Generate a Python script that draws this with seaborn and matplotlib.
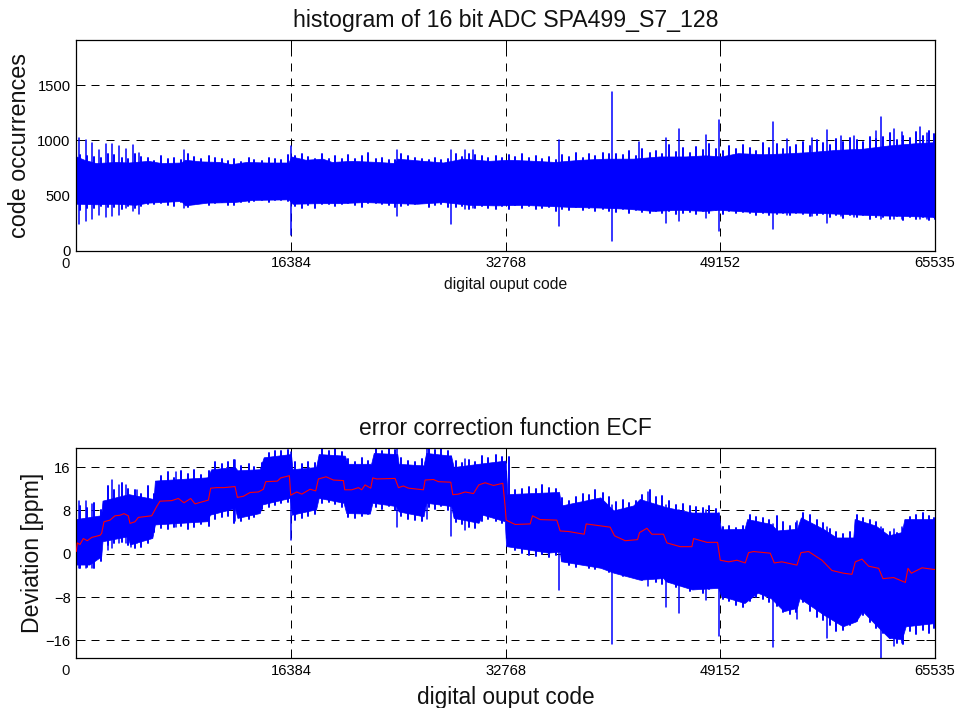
import matplotlib
matplotlib.use("Agg")
import matplotlib.pyplot as plt
import pandas as pd
import seaborn as sns

# x axis marks shared by both panels
code_ticks = [0, 16384, 32768, 49152, 65535]
code_labels = ["", "16384", "32768", "49152", "65535"]
hist_yticks = [0, 500, 1000, 1500]
ecf_yticks = [-16, -8, 0, 8, 16]

# histogram: solid body of the trace
hist_up_codes = [0, 600, 1500, 3000, 4000, 5500, 6500, 8000, 8300, 9500, 11000, 11800, 13000, 14500, 16200, 16400,
                 17500, 18800, 19500, 21000, 23000, 24300, 24500, 26500, 28000, 29500, 31500, 33000, 35000, 36500,
                 38500, 40500, 42500, 44500, 46500, 48000, 49200, 50500, 52500, 54500, 56000, 58000, 60000, 62000,
                 64000, 65535]
hist_up = [855, 825, 795, 805, 800, 815, 795, 800, 825, 810, 805, 785, 805, 800, 800, 855,
           825, 835, 805, 815, 805, 795, 835, 815, 800, 835, 815, 825, 815, 805,
           825, 835, 835, 855, 855, 865, 855, 885, 875, 885, 895, 915, 925, 955,
           975, 985]
hist_low_codes = [0, 1500, 3000, 4500, 5500, 8000, 8300, 10000, 12000, 13500, 16200, 16500, 18500, 20000, 22000,
                  24500, 26000, 28000, 30000, 32000, 34000, 36000, 38000, 40000, 42000, 44000, 46000, 48000, 49000,
                  51000, 53000, 55000, 57000, 59000, 61000, 63000, 65535]
hist_low = [425, 420, 425, 415, 435, 450, 410, 435, 440, 460, 465, 425, 430, 430, 440,
            430, 425, 440, 415, 410, 415, 405, 395, 390, 380, 360, 370, 360, 370,
            355, 345, 345, 340, 330, 320, 315, 305]

# histogram: single codes that stick out of the body
hist_spike_codes = [178, 712, 1196, 1705, 2290, 2748, 3282, 3791, 4300, 4784, 8244, 16361, 24504, 28575, 29669, 30305,
                    36845, 40891, 42926, 45013, 46031, 48041, 49084, 53206, 54224, 56183, 57277, 58346, 59364, 61043,
                    61399, 62417, 63003, 64402, 64911]
hist_spike_high = [1027, 1003, 973, 918, 964, 964, 952, 927, 961, 882, 918, 952, 912, 912, 918, 918,
                   1003, 1442, 982, 1027, 1100, 1048, 1185, 1170, 1018, 1027, 1094, 1039, 1039, 1085,
                   1209, 1100, 1079, 1124, 1070]
hist_spike_low = [240, 270, 282, 321, 306, 312, 327, 382, 361, 336, 382, 145, 312, 240, 373, 382,
                  227, 88, 380, 251, 270, 297, 179, 197, 320, 310, 251, 310, 300, 300,
                  282, 290, 290, 290, 290]

# both traces: the fine teeth along the edges of the body
grass_codes = [300, 820, 1350, 1850, 2450, 2900, 3450, 3950, 4500, 4950,
               5450, 5950, 6500, 7000, 7450, 8000, 8550, 9000, 9550, 10100,
               10550, 11100, 11600, 12050, 12600, 13150, 13600, 14150, 14700, 15200,
               15650, 16150, 16700, 17200, 17700, 18200, 18750, 19250, 19750, 20300,
               20750, 21300, 21800, 22300, 22850, 23300, 23850, 24350, 24800, 25350,
               25850, 26350, 26900, 27400, 27850, 28400, 28950, 29400, 29950, 30450,
               30950, 31450, 32000, 32500, 33000, 33500, 34050, 34550, 35050, 35550,
               36100, 36600, 37100, 37600, 38100, 38650, 39150, 39600, 40200, 40650,
               41200, 41700, 42200, 42700, 43200, 43750, 44250, 44700, 45250, 45800,
               46300, 46800, 47300, 47800, 48300, 48850, 49350, 49850, 50350, 50850,
               51400, 51900, 52400, 52900, 53450, 53950, 54450, 54950, 55450, 56000,
               56500, 57000, 57500, 58000, 58500, 59050, 59550, 60050, 60550, 61050,
               61600, 62100, 62600, 63100, 63600, 64100, 64600, 65100, 65450, 65520]
hist_grass_high = [870, 860, 850, 845, 880, 870, 845, 830, 880, 850,
                   840, 810, 860, 830, 840, 825, 880, 850, 835, 860,
                   840, 830, 815, 835, 805, 840, 825, 815, 840, 830,
                   820, 870, 860, 880, 850, 835, 880, 835, 860, 830,
                   870, 835, 860, 885, 830, 845, 825, 820, 875, 860,
                   845, 830, 820, 845, 825, 835, 880, 850, 880, 870,
                   855, 845, 860, 840, 870, 850, 875, 845, 860, 835,
                   850, 825, 870, 850, 885, 845, 880, 860, 890, 875,
                   880, 870, 900, 860, 925, 890, 905, 875, 960, 895,
                   930, 890, 945, 910, 965, 920, 900, 950, 925, 955,
                   935, 905, 980, 935, 965, 920, 940, 955, 985, 950,
                   1005, 980, 960, 1010, 990, 1020, 1000, 985, 1030, 1010,
                   1030, 1065, 1005, 1045, 1020, 1075, 1040, 1090, 1060, 1040]
hist_grass_low = [370, 390, 390, 405, 395, 395, 380, 400, 385, 400,
                  420, 425, 430, 415, 405, 440, 395, 425, 445, 410,
                  430, 440, 415, 410, 440, 445, 450, 460, 445, 455,
                  460, 450, 405, 390, 415, 385, 420, 425, 400, 425,
                  430, 415, 395, 430, 430, 425, 410, 395, 400, 415,
                  420, 430, 395, 410, 425, 395, 395, 400, 380, 390,
                  405, 385, 375, 405, 380, 410, 385, 400, 375, 390,
                  395, 360, 380, 370, 395, 365, 385, 360, 375, 360,
                  350, 380, 345, 370, 350, 340, 355, 345, 360, 335,
                  340, 350, 330, 355, 345, 370, 335, 355, 340, 350,
                  345, 325, 345, 320, 335, 340, 320, 345, 335, 310,
                  320, 335, 305, 320, 295, 325, 300, 320, 290, 305,
                  300, 285, 310, 275, 300, 285, 305, 280, 300, 290]
ecf_grass_high = [8.8, 8.5, 9.3, 8.0, 12.5, 11.8, 13.0, 12.0, 11.8, 11.0,
                  12.5, 11.0, 14.4, 15.0, 14.0, 15.2, 14.8, 15.4, 14.6, 15.2,
                  17.0, 16.5, 17.0, 17.3, 16.2, 16.6, 16.0, 16.8, 18.6, 18.9,
                  19.0, 19.2, 17.0, 16.6, 17.0, 16.8, 19.3, 18.9, 19.5, 18.8,
                  17.4, 16.9, 17.6, 17.2, 19.3, 19.0, 19.5, 19.2, 17.6, 17.2,
                  17.0, 17.4, 19.5, 19.1, 19.5, 19.0, 17.2, 16.8, 17.3, 17.0,
                  18.0, 17.6, 18.2, 17.8, 17.9, 11.8, 12.0, 12.4, 11.9, 12.6,
                  12.2, 12.0, 10.2, 9.8, 10.5, 11.0, 10.8, 11.8, 11.2, 10.5,
                  9.6, 10.0, 9.4, 9.8, 10.8, 11.8, 10.4, 10.6, 9.8, 9.0,
                  9.2, 8.8, 8.6, 8.4, 8.9, 8.2, 5.0, 5.2, 4.8, 5.2,
                  7.2, 6.8, 6.6, 6.2, 7.0, 5.8, 5.2, 5.6, 7.5, 7.2,
                  6.2, 5.6, 4.6, 4.0, 3.6, 4.0, 7.2, 6.6, 6.2, 5.8,
                  4.5, 4.0, 3.8, 4.6, 6.8, 7.2, 7.5, 7.0, 6.6, 6.0]
ecf_grass_low = [-2.6, -2.4, -2.7, -1.4, 1.6, 1.9, 2.2, 1.6, 1.0, 1.3,
                 2.0, 4.0, 4.8, 4.5, 5.0, 5.2, 4.6, 5.0, 5.4, 5.2,
                 6.5, 6.8, 7.0, 5.6, 6.0, 6.4, 6.8, 8.3, 8.6, 9.0,
                 9.4, 9.6, 6.3, 6.6, 7.0, 7.4, 9.4, 9.6, 9.2, 8.6,
                 6.8, 6.6, 7.0, 7.4, 8.6, 8.3, 8.8, 8.0, 6.9, 6.5,
                 6.2, 6.0, 8.6, 8.2, 8.8, 8.0, 5.8, 5.5, 5.0, 4.8,
                 6.0, 6.4, 6.0, 5.6, 5.3, 0.6, 0.2, -0.2, -0.5, 0.0,
                 -0.6, -0.2, -1.2, -2.0, -2.4, -1.6, -2.6, -2.8, -2.4, -3.4,
                 -3.4, -4.2, -3.8, -4.4, -4.8, -4.2, -5.2, -5.6, -5.2, -6.2,
                 -6.0, -6.8, -6.0, -7.2, -6.6, -6.2, -8.4, -8.8, -9.4, -9.8,
                 -8.8, -8.0, -8.4, -8.9, -9.6, -10.8, -11.2, -10.8, -9.0, -10.6,
                 -11.6, -12.2, -13.2, -14.2, -14.0, -13.2, -12.4, -11.4, -12.6, -13.8,
                 -14.6, -15.6, -16.4, -16.6, -14.2, -14.8, -14.0, -14.6, -13.8, -13.4]

# error correction function: solid body of the trace
ecf_up_codes = [0, 1900, 2000, 4000, 5900, 6000, 10000, 10300, 12100, 12300, 14000, 14300, 16384, 16500, 18300, 18500,
                20500, 20700, 22500, 22700, 24500, 24600, 26500, 26700, 28600, 28800, 30700, 32768, 32900, 36845,
                37000, 40000, 41000, 42500, 43000, 45000, 47000, 49000, 49200, 51000, 51200, 53000, 53500, 55000,
                55300, 57000, 58000, 59300, 59400, 61000, 62000, 63000, 63200, 65535]
ecf_up = [6.4, 7.1, 9.8, 11.0, 10.1, 13.5, 14.1, 15.6, 16.0, 15.4, 15.6, 17.8, 18.4, 15.6, 16.0, 18.4,
          18.1, 16.6, 16.6, 18.6, 18.4, 16.6, 16.3, 18.6, 18.1, 16.0, 16.6, 17.2, 11.0, 11.4,
          8.9, 10.4, 8.0, 8.9, 10.1, 8.6, 7.6, 7.6, 4.5, 4.6, 6.4, 5.5, 4.3, 4.6,
          6.7, 4.6, 3.0, 3.0, 6.4, 5.2, 3.4, 4.0, 6.4, 6.4]
ecf_low_codes = [0, 1000, 1900, 2000, 3900, 4100, 5800, 6000, 10000, 10200, 12100, 12300, 14000, 14200, 16300, 16450,
                 18300, 18500, 20400, 20600, 22400, 22600, 24400, 24600, 26500, 26700, 28600, 28800, 30700, 31000,
                 32700, 32800, 36000, 36900, 37000, 40000, 41000, 43000, 44800, 45000, 47000, 49000, 49200, 51000,
                 52000, 53000, 54000, 55000, 55200, 57000, 58500, 59500, 60000, 61000, 62000, 63000, 63300, 65535]
ecf_low = [-2.0, -2.0, -0.5, 2.3, 3.2, 1.7, 2.9, 5.4, 6.0, 7.2, 8.4, 6.6, 7.5, 9.1, 10.3, 7.2,
           8.2, 10.3, 9.4, 7.5, 7.4, 9.4, 8.8, 7.8, 6.9, 9.4, 8.8, 6.6, 5.7, 7.2,
           6.0, 1.4, 0.2, 0.4, -1.4, -2.6, -3.5, -4.8, -4.5, -5.1, -6.6, -6.3, -7.8, -9.1,
           -7.2, -8.2, -10.6, -10.0, -8.2, -11.2, -13.4, -12.5, -10.6, -13.1, -15.5, -15.8, -13.4, -12.8]

# error correction function: single codes that stick out of the body
ecf_spike_codes = [178, 712, 1196, 2440, 2748, 3282, 3791, 4170, 4600, 7600, 12100, 16361, 24504, 26740, 28575, 29669,
                   36845, 40891, 43664, 45013, 46031, 48041, 49084, 53206, 55000, 57277, 61399, 62417, 63003]
ecf_spike_high = [9.8, 9.8, 9.2, 9.5, 13.6, 12.7, 12.7, 10.5, 11.8, 15.1, 17.3, 18.8, 19.5, 19.5, 18.0, 17.5,
                  11.0, 9.0, 11.4, 9.0, 8.0, 8.0, 7.5, 5.5, 6.0, 5.0, 5.0, 4.5, 5.0]
ecf_spike_low = [-2.6, -2.6, -2.6, 0.7, 1.0, 2.0, 2.0, 1.2, 2.0, 5.0, 6.0, 2.5, 4.9, 6.5, 3.3, 4.4,
                 -6.7, -16.6, -6.0, -9.8, -11.0, -8.5, -15.2, -17.2, -12.0, -15.5, -19.25, -17.0, -16.5]

# error correction function: red running mean
mean_codes = [0, 76, 280, 534, 840, 1170, 1807, 1934, 2112, 2570, 2952, 3334, 3640, 3970, 4097, 4479, 4734, 5752, 6134,
              6388, 7279, 7788, 8220, 8729, 9060, 10078, 10256, 10714, 11274, 12114, 12292, 12750, 13259, 13896, 14277,
              14456, 15346, 15601, 16263, 16364, 16822, 17204, 17840, 18273, 18477, 19062, 19622, 20385, 20487, 21022,
              21531, 21785, 22040, 22472, 22625, 22930, 24330, 24585, 24966, 25348, 26493, 26621, 27257, 27638, 28580,
              28733, 29166, 29675, 30311, 30718, 31202, 31839, 32551, 32729, 32806, 33493, 34638, 34816, 35401, 36674,
              36928, 37565, 38761, 38914, 40746, 41077, 41892, 42833, 42986, 43546, 43928, 44818, 45073, 46091, 46982,
              47109, 48127, 48941, 49145, 49781, 50417, 51053, 51308, 51690, 52962, 53267, 53852, 54997, 55303, 55888,
              56906, 57670, 58561, 59197, 59452, 59961, 60470, 61234, 61565, 62380, 63270, 63474, 63729, 64543, 65434,
              65535]
mean_dev = [0.4, 2.0, 1.7, 2.8, 2.4, 3.0, 3.4, 3.75, 5.9, 6.2, 7.0, 7.1, 7.4, 7.0, 5.6, 5.9, 6.7, 7.0, 8.7,
            9.7, 9.8, 10.2, 9.4, 10.2, 9.2, 9.9, 12.1, 12.2, 12.2, 12.4, 10.4, 10.6, 11.3, 11.4, 11.9,
            13.3, 13.4, 14.0, 14.4, 10.8, 11.4, 11.0, 11.9, 11.6, 13.8, 14.2, 13.6, 13.5, 11.8, 11.8,
            12.2, 11.8, 12.7, 12.1, 14.0, 13.8, 13.9, 12.2, 12.5, 12.1, 11.8, 13.6, 13.7, 13.3, 13.2,
            10.9, 11.0, 11.4, 11.1, 12.7, 13.1, 12.6, 13.0, 8.7, 6.2, 5.4, 5.5, 7.0, 6.3, 6.2,
            4.2, 4.1, 3.6, 5.5, 4.9, 3.3, 2.4, 2.6, 3.9, 4.7, 3.6, 3.6, 2.0, 1.3, 1.3,
            2.8, 2.1, 2.1, -1.2, -1.5, -1.2, -1.7, 0.2, 0.4, 0.1, -1.7, -1.5, -2.1, 0.2, 0.4,
            -1.2, -3.1, -3.6, -3.8, -1.5, -1.0, -2.3, -2.7, -4.6, -4.4, -5.3, -2.7, -3.6, -2.6, -2.9,
            -2.9]

BLUE = "#0000ff"
RED = "#ff0000"


def spike_frame(codes, high, low):
    rows = []
    for i, c in enumerate(codes):
        rows.append((i, c, low[i]))
        rows.append((i, c, high[i]))
    return pd.DataFrame(rows, columns=["spike", "code", "value"])


def draw_trace(ax, up_codes, up, low_codes, low, spike_df, grass_df):
    body = pd.DataFrame({"code": sorted(set(up_codes + low_codes))})
    body["up"] = pd.Series(up, index=up_codes).reindex(body.code).interpolate("index").values
    body["low"] = pd.Series(low, index=low_codes).reindex(body.code).interpolate("index").values
    ax.fill_between(body.code, body.low, body.up, color=BLUE, lw=0.5, zorder=2)
    sns.lineplot(data=grass_df, x="code", y="value", units="spike", estimator=None, sort=False,
                 color=BLUE, lw=1.4, ax=ax, zorder=2)
    sns.lineplot(data=spike_df, x="code", y="value", units="spike", estimator=None, sort=False,
                 color=BLUE, lw=1.1, ax=ax, zorder=2)


def style_axes(ax, yticks, ylim):
    ax.set_xlim(0, 65535)
    ax.set_ylim(*ylim)
    ax.set_xticks(code_ticks, code_labels)
    ax.set_yticks(yticks)
    ax.grid(True, color="black", lw=0.72, linestyle=(0, (8, 7)), zorder=1)
    ax.set_axisbelow(True)
    ax.tick_params(direction="in", length=6.2, width=0.72, top=True, right=True, labelsize=10.6,
                   colors="black", pad=4)
    for s in ax.spines.values():
        s.set_visible(True)
        s.set_linewidth(0.9)
        s.set_color("black")
    # matlab put the zero label out to the left of the corner
    ax.annotate("0", xy=(0, 0), xycoords="axes fraction", xytext=(-11, -13), textcoords="offset pixels",
                ha="center", va="center", fontsize=10.6, color="#111111")


sns.set_style("ticks")
plt.rcParams["font.family"] = ["Liberation Sans", "DejaVu Sans"]

W, H = 955, 708
fig = plt.figure(figsize=(W / 100, H / 100), dpi=100)
ax1 = fig.add_axes([76.3 / W, 1 - 250.5 / H, 858.7 / W, 211 / H])
ax2 = fig.add_axes([76.3 / W, 1 - 658 / H, 858.7 / W, 210.3 / H])

draw_trace(ax1, hist_up_codes, hist_up, hist_low_codes, hist_low,
           spike_frame(hist_spike_codes, hist_spike_high, hist_spike_low),
           spike_frame(grass_codes, hist_grass_high, hist_grass_low))
style_axes(ax1, hist_yticks, (0, 1918))
ax1.set_title("histogram of 16 bit ADC SPA499_S7_128", fontsize=16.7, pad=9, color="#111111")
ax1.set_xlabel("digital ouput code", fontsize=11.3, labelpad=5, color="#111111")
ax1.set_ylabel("code occurrences", fontsize=16.8, color="#111111")
ax1.yaxis.set_label_coords(-0.053, 0.5)

draw_trace(ax2, ecf_up_codes, ecf_up, ecf_low_codes, ecf_low,
           spike_frame(ecf_spike_codes, ecf_spike_high, ecf_spike_low),
           spike_frame(grass_codes, ecf_grass_high, ecf_grass_low))
sns.lineplot(x=mean_codes, y=mean_dev, estimator=None, sort=False, color=RED, lw=0.8, ax=ax2, zorder=3)
style_axes(ax2, ecf_yticks, (-19.25, 19.57))
ax2.set_title("error correction function ECF", fontsize=16.4, pad=9, color="#111111")
ax2.set_xlabel("digital ouput code", fontsize=16.3, labelpad=6, color="#111111")
ax2.set_ylabel("Deviation [ppm]", fontsize=16.7, color="#111111")
ax2.yaxis.set_label_coords(-0.038, 0.5)

fig.savefig("out.png", dpi=100)
